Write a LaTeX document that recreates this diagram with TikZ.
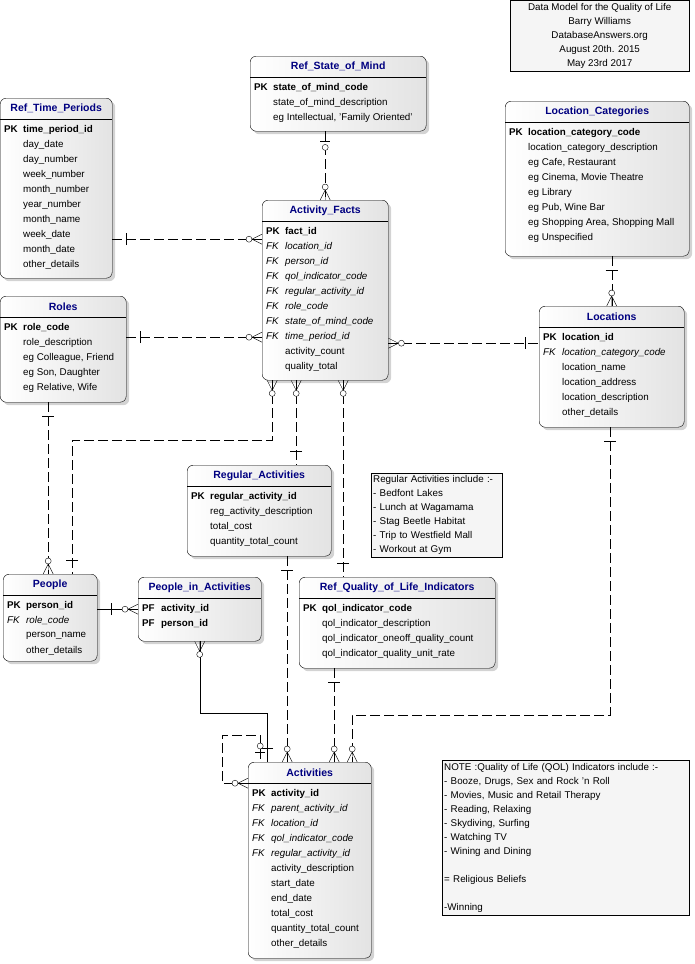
\documentclass[tikz,border=0pt]{standalone}
\usepackage{fontspec}
\setmainfont{Liberation Sans}
\usetikzlibrary{calc, shadows}

\definecolor{navy}{RGB}{0,0,128}
\newcommand\keypk[1]{\makebox[19pt][l]{\bfseries PK}\textbf{#1}}
\newcommand\keypf[1]{\makebox[19pt][l]{\bfseries PF}\textbf{#1}}
\newcommand\keyfk[1]{\makebox[19pt][l]{\itshape FK}\textit{#1}}
\newcommand\attr[1]{\hspace*{19pt}#1}

% entity: name, left x, top y, width, height, title, rows
\newcommand\entity[7]{%
  \node[ent, minimum width=#4, minimum height=#5, anchor=north west] (#1) at (#2,-#3) {};
  \node[etitle] at ($(#1.north)+(0,-10.5)$) {#6};
  \draw ($(#1.north west)+(0,-21)$) -- ($(#1.north east)+(0,-21)$);
  \foreach \r [count=\i] in {#7}
    \node[row] at ({#2+4},{-#3-32-15*(\i-1)}) {\r};
}

\tikzset{
  ent/.style={draw, rounded corners=6, left color=white, right color=gray!22,
    drop shadow={opacity=0.35, shadow xshift=3pt, shadow yshift=-3pt}, inner sep=0},
  etitle/.style={font=\fontsize{10.5}{12}\selectfont\bfseries, text=navy},
  row/.style={anchor=west, inner sep=0, font=\fontsize{9.8}{11}\selectfont},
  note/.style={draw, fill=gray!8, anchor=north west, align=left, inner sep=2pt,
    font=\fontsize{9.8}{14}\selectfont},
  rel/.style={dash pattern=on 10pt off 4pt},
  crowz/.pic={\draw[solid] (0,-5) -- (10,0) -- (0,5) (0,0) -- (10,0);
    \draw[solid, fill=white] (13,0) circle (3);},
  zone/.pic={\draw[solid] (10,-5) -- (10,5);
    \draw[solid, fill=white] (16,0) circle (3);},
  one/.pic={\draw[solid] (14,-6) -- (14,6);}
}

\begin{document}
\begin{tikzpicture}[x=1pt, y=1pt]
  \useasboundingbox (0,0) rectangle (695,-964);

  \node[note, minimum width=179, minimum height=71, align=center, inner sep=0pt] (hdr) at (510,0)
    {Data Model for the Quality of Life\\Barry Williams\\DatabaseAnswers.org\\August 20th. 2015\\May 23rd 2017};

  \entity{som}{250}{56}{176}{75}{Ref\_State\_of\_Mind}
    {\keypk{state\_of\_mind\_code}, \attr{state\_of\_mind\_description}, {\attr{eg Intellectual, 'Family Oriented'}}}
  \entity{tp}{0}{98}{112}{180}{Ref\_Time\_Periods}
    {\keypk{time\_period\_id}, \attr{day\_date}, \attr{day\_number}, \attr{week\_number},
     \attr{month\_number}, \attr{year\_number}, \attr{month\_name}, \attr{week\_date},
     \attr{month\_date}, \attr{other\_details}}
  \entity{lc}{505}{101}{184}{155}{Location\_Categories}
    {\keypk{location\_category\_code}, \attr{location\_category\_description},
     {\attr{eg Cafe, Restaurant}}, {\attr{eg Cinema, Movie Theatre}}, \attr{eg Library},
     {\attr{eg Pub, Wine Bar}}, {\attr{eg Shopping Area, Shopping Mall}}, \attr{eg Unspecified}}
  \entity{af}{262}{200}{126}{180}{Activity\_Facts}
    {\keypk{fact\_id}, \keyfk{location\_id}, \keyfk{person\_id}, \keyfk{qol\_indicator\_code},
     \keyfk{regular\_activity\_id}, \keyfk{role\_code}, \keyfk{state\_of\_mind\_code},
     \keyfk{time\_period\_id}, \attr{activity\_count}, \attr{quality\_total}}
  \entity{ro}{0}{296}{126}{106}{Roles}
    {\keypk{role\_code}, \attr{role\_description}, {\attr{eg Colleague, Friend}},
     {\attr{eg Son, Daughter}}, {\attr{eg Relative, Wife}}}
  \entity{lo}{539}{306}{145}{121}{Locations}
    {\keypk{location\_id}, \keyfk{location\_category\_code}, \attr{location\_name},
     \attr{location\_address}, \attr{location\_description}, \attr{other\_details}}
  \entity{ra}{187}{465}{144}{91}{Regular\_Activities}
    {\keypk{regular\_activity\_id}, \attr{reg\_activity\_description}, \attr{total\_cost},
     \attr{quantity\_total\_count}}
  \entity{pe}{3}{574}{94}{87}{People}
    {\keypk{person\_id}, \keyfk{role\_code}, \attr{person\_name}, \attr{other\_details}}
  \entity{pia}{138}{577}{123}{64}{People\_in\_Activities}
    {\keypf{activity\_id}, \keypf{person\_id}}
  \entity{qol}{299}{577}{196}{91}{Ref\_Quality\_of\_Life\_Indicators}
    {\keypk{qol\_indicator\_code}, \attr{qol\_indicator\_description},
     \attr{qol\_indicator\_oneoff\_quality\_count}, \attr{qol\_indicator\_quality\_unit\_rate}}
  \entity{ac}{248}{762}{123}{196}{Activities}
    {\keypk{activity\_id}, \keyfk{parent\_activity\_id}, \keyfk{location\_id},
     \keyfk{qol\_indicator\_code}, \keyfk{regular\_activity\_id}, \attr{activity\_description},
     \attr{start\_date}, \attr{end\_date}, \attr{total\_cost}, \attr{quantity\_total\_count},
     \attr{other\_details}}

  \node[note, minimum width=131, minimum height=84, text width=127] (ranote) at (371,-473)
    {Regular Activities include :-\\- Bedfont Lakes\\- Lunch at Wagamama\\- Stag Beetle Habitat\\- Trip to Westfield Mall\\- Workout at Gym};
  \node[note, minimum width=247, minimum height=155, text width=243] (qolnote) at (442,-760)
    {NOTE :Quality of Life (QOL) Indicators include :-\\- Booze, Drugs, Sex and Rock 'n Roll\\- Movies, Music and Retail Therapy\\- Reading, Relaxing\\- Skydiving, Surfing\\- Watching TV\\- Wining and Dining\\[14pt]= Religious Beliefs\\[14pt]-Winning};

  % relationships
  \coordinate (f1) at ([xshift=-53]af.south);
  \coordinate (f2) at ([xshift=-29]af.south);
  \coordinate (f3) at ([xshift=18]af.south);
  \coordinate (r1) at ([xshift=28]ra.south);
  \coordinate (q1) at ([xshift=-63]qol.south);
  \coordinate (l1) at ([xshift=-1.5]lo.south);
  \coordinate (p1) at ([xshift=-2]pe.north);

  \draw[rel] (som.south -| af.north) -- (af.north);
  \path (som.south -| af.north) pic[rotate=-90]{zone} (af.north) pic[rotate=90]{crowz};
  \draw[rel] ([yshift=-51]tp.east) -- ([yshift=51]af.west);
  \path ([yshift=-51]tp.east) pic{one} ([yshift=51]af.west) pic[rotate=180]{crowz};
  \draw[rel] ([yshift=12]ro.east) -- ([yshift=-47]af.west);
  \path ([yshift=12]ro.east) pic{one} ([yshift=-47]af.west) pic[rotate=180]{crowz};
  \draw[rel] ([yshift=-53]af.east) -- ([yshift=23.5]lo.west);
  \path ([yshift=-53]af.east) pic{crowz} ([yshift=23.5]lo.west) pic[rotate=180]{one};
  \draw[rel] (lc.south -| lo.north) -- (lo.north);
  \path (lc.south -| lo.north) pic[rotate=-90]{one} (lo.north) pic[rotate=90]{crowz};
  \draw[rel] (ro.south -| p1) -- (p1);
  \path (ro.south -| p1) pic[rotate=-90]{one} (p1) pic[rotate=90]{crowz};
  \draw[rel] (f1) -- ++(0,-60) -| ([xshift=22]pe.north);
  \path (f1) pic[rotate=-90]{crowz} ([xshift=22]pe.north) pic[rotate=90]{one};
  \draw[rel] (f2) -- (f2 |- ra.north);
  \path (f2) pic[rotate=-90]{crowz} (f2 |- ra.north) pic[rotate=90]{one};
  \draw[rel] (f3) -- (f3 |- qol.north);
  \path (f3) pic[rotate=-90]{crowz} (f3 |- qol.north) pic[rotate=90]{one};
  \draw (pia.west -| pe.east) -- (pia.west);
  \path (pia.west -| pe.east) pic{one} (pia.west) pic[rotate=180]{crowz};
  \draw (pia.south) -- ++(0,-72) -| ([xshift=-42.5]ac.north);
  \path (pia.south) pic[rotate=-90]{crowz} ([xshift=-42.5]ac.north) pic[rotate=90]{one};
  \draw[rel] ([yshift=77]ac.west) -| ++(-26,48) -| ([xshift=-49.5]ac.north);
  \path ([yshift=77]ac.west) pic[rotate=180]{crowz} ([xshift=-49.5]ac.north) pic[rotate=90]{zone};
  \draw[rel] (r1) -- (r1 |- ac.north);
  \path (r1) pic[rotate=-90]{one} (r1 |- ac.north) pic[rotate=90]{crowz};
  \draw[rel] (q1) -- (q1 |- ac.north);
  \path (q1) pic[rotate=-90]{one} (q1 |- ac.north) pic[rotate=90]{crowz};
  \draw[rel] (l1) -- ++(0,-288) -| ([xshift=42.5]ac.north);
  \path (l1) pic[rotate=-90]{one} ([xshift=42.5]ac.north) pic[rotate=90]{crowz};
\end{tikzpicture}
\end{document}
